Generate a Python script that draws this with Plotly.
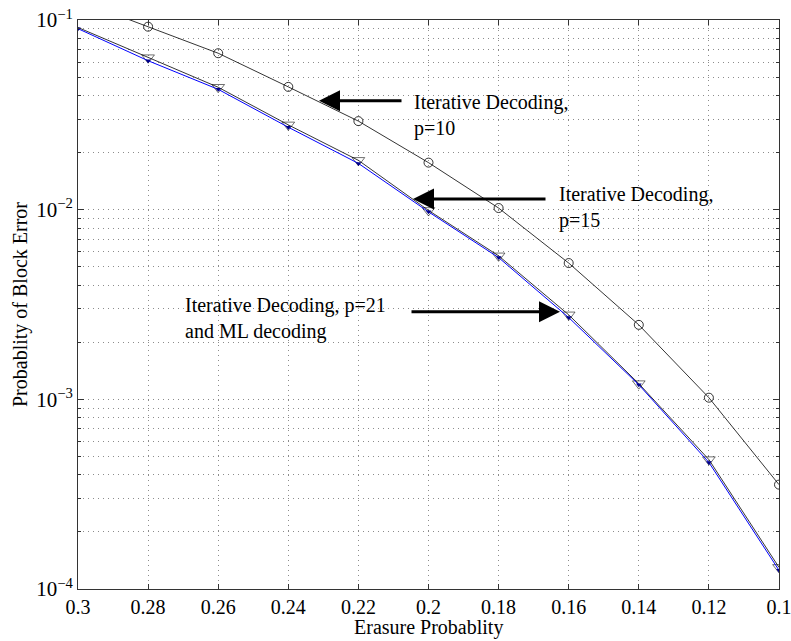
import plotly.graph_objects as go

# ---- data ----
erasure_prob = [0.30, 0.28, 0.26, 0.24, 0.22, 0.20, 0.18, 0.16, 0.14, 0.12, 0.10]
iter_p10 = [0.127, 0.0922, 0.0668, 0.0444, 0.0293, 0.0177, 0.0102, 0.00523, 0.00247, 0.00102, 0.000355]
iter_p15 = [0.0913, 0.0633, 0.0442, 0.0280, 0.0182, 0.00991, 0.00571, 0.00279, 0.00121, 0.000481, 0.000130]
iter_p21_ml = [0.0900, 0.0610, 0.0431, 0.0272, 0.01754, 0.00974, 0.00559, 0.00270, 0.001194, 0.000465, 0.0001255]

x_tickvals = [0.30, 0.28, 0.26, 0.24, 0.22, 0.20, 0.18, 0.16, 0.14, 0.12, 0.10]
x_ticktext = ["0.3", "0.28", "0.26", "0.24", "0.22", "0.2", "0.18", "0.16", "0.14", "0.12", "0.1"]
y_tickvals = [1e-4, 1e-3, 1e-2, 1e-1]
y_ticktext = ["10<sup>−4</sup>", "10<sup>−3</sup>", "10<sup>−2</sup>", "10<sup>−1</sup>"]
y_minor = [m * 10.0 ** e for e in (-4, -3, -2) for m in range(2, 10)]

FONT = "Liberation Serif"
W, H = 791, 641
L, R, T, B = 78, 12, 20, 52
PW, PH = W - L - R, H - T - B


def px2paper(X, Y):
    return (X - L) / PW, (H - B - Y) / PH


fig = go.Figure()

fig.add_trace(go.Scatter(
    x=erasure_prob, y=iter_p10, mode="lines+markers", name="p=10",
    line=dict(color="black", width=0.8),
    marker=dict(symbol="circle-open", size=9, color="black", line=dict(width=0.8)),
))
p15_sizes = [0] + [11] * (len(erasure_prob) - 1)
fig.add_trace(go.Scatter(
    x=erasure_prob, y=iter_p15, mode="lines+markers", name="p=15",
    line=dict(color="black", width=0.8),
    marker=dict(symbol="triangle-down-open", size=p15_sizes, color="black", line=dict(width=0.8)),
))
fig.add_trace(go.Scatter(
    x=erasure_prob, y=iter_p21_ml, mode="lines+markers", name="p=21 / ML",
    line=dict(color="blue", width=1),
    marker=dict(symbol="triangle-down", size=5, color="#00008b"),
))

# arrows (tip position in px, tail offset in px)
arrows = [((319, 100.7), 84), ((413, 199), 134), ((560, 311.7), -150)]
for (tx, ty), ax in arrows:
    px, py = px2paper(tx, ty)
    fig.add_annotation(x=px, y=py, xref="paper", yref="paper", text="",
                       showarrow=True, ax=ax, ay=0, axref="pixel", ayref="pixel",
                       arrowhead=2, arrowsize=1.4, arrowwidth=3, arrowcolor="black", standoff=0)

labels = [
    ("Iterative Decoding,<br>p=10", 412, 115.5),
    ("Iterative Decoding,<br>p=15", 557, 207.5),
    ("Iterative Decoding, p=21<br>and ML decoding", 183, 318.5),
]
for txt, X, Y in labels:
    px, py = px2paper(X, Y)
    fig.add_annotation(x=px, y=py, xref="paper", yref="paper", text=txt, showarrow=False,
                       xanchor="left", yanchor="middle", align="left",
                       font=dict(family=FONT, size=20, color="black"))

# axis titles as annotations for exact placement
tx, ty = px2paper(428, 627)
fig.add_annotation(x=tx, y=ty, xref="paper", yref="paper", text="Erasure Probablity",
                   showarrow=False, xanchor="center", yanchor="middle",
                   font=dict(family=FONT, size=20, color="black"))
tx, ty = px2paper(20, 305)
fig.add_annotation(x=tx, y=ty, xref="paper", yref="paper", text="Probablity of Block Error",
                   showarrow=False, xanchor="center", yanchor="middle", textangle=-90,
                   font=dict(family=FONT, size=20, color="black"))

GRIDC = "#8c8c8c"
GRIDDASH = "1px,4px"
grid = dict(showgrid=True, gridcolor=GRIDC, griddash=GRIDDASH, gridwidth=1)
fig.update_xaxes(
    range=[0.3, 0.1], tickmode="array", tickvals=x_tickvals, ticktext=x_ticktext,
    ticks="inside", ticklen=5, tickcolor="#333", showline=True, linecolor="#333", linewidth=1,
    mirror="ticks", zeroline=False, automargin=False, ticklabeloverflow="allow",
    tickfont=dict(family=FONT, size=20, color="black"),
    **grid,
)
fig.update_yaxes(
    type="log", range=[-4, -1], tickmode="array", tickvals=y_tickvals, ticktext=y_ticktext,
    ticks="inside", ticklen=6, tickcolor="#333", showline=True, linecolor="#333", linewidth=1,
    mirror="ticks", zeroline=False, automargin=False, ticklabeloverflow="allow",
    tickfont=dict(family=FONT, size=21, color="black"),
    minor=dict(tickmode="array", tickvals=y_minor, ticks="inside", ticklen=3, tickcolor="#333",
               showgrid=True, gridcolor=GRIDC, griddash=GRIDDASH, gridwidth=1),
    **grid,
)

fig.update_layout(
    width=W, height=H, margin=dict(l=L, r=R, t=T, b=B),
    paper_bgcolor="white", plot_bgcolor="white", showlegend=False,
    font=dict(family=FONT, size=20, color="black"),
)

fig.write_html(
    "out.html",
    config={"displayModeBar": False},
    post_script="document.body.style.margin='0';document.body.style.overflow='hidden';",
)
